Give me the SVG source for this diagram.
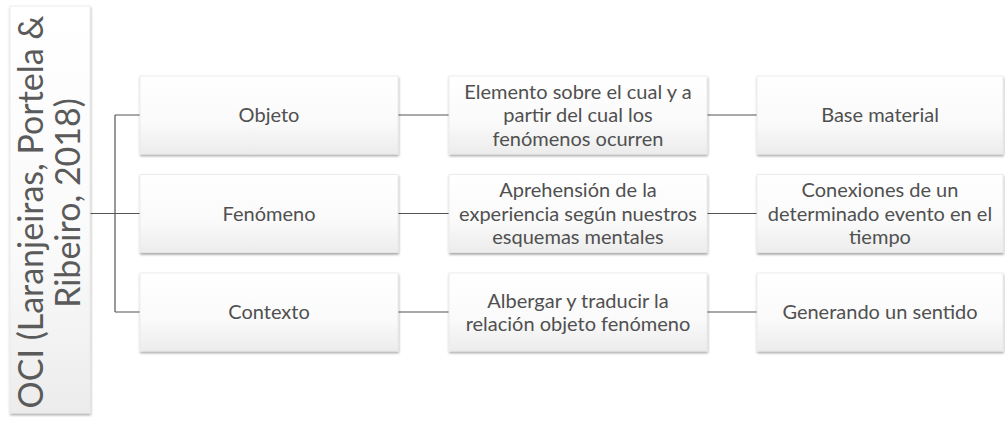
<svg xmlns="http://www.w3.org/2000/svg" width="1005" height="421" viewBox="0 0 1005 421">
<style>
.box{fill:url(#g);stroke:#e8e8e8;stroke-width:0.8;filter:url(#sh)}
.t{font-family:Lato,"Open Sans","Liberation Sans",sans-serif;font-size:20px;fill:#505050;text-anchor:middle}
.rt{font-family:Lato,"Open Sans","Liberation Sans",sans-serif;font-size:34px;fill:#5a5a5a;text-anchor:middle}
.c{fill:none;stroke:#555;stroke-width:1.2}
</style>
<defs>
<linearGradient id="g" x1="0" y1="0" x2="0" y2="1">
<stop offset="0" stop-color="#ffffff"/>
<stop offset="0.6" stop-color="#fafafa"/>
<stop offset="1" stop-color="#ececec"/>
</linearGradient>
<filter id="sh" x="-10%" y="-10%" width="120%" height="130%">
<feDropShadow dx="0.5" dy="1.8" stdDeviation="1.2" flood-color="#000" flood-opacity="0.35"/>
</filter>
</defs>
<rect width="1005" height="421" fill="#fff"/>
<g id="connectors">
<path class="c" d="M90,213.5H115M115,115V312M115,115H140M115,213.5H140M115,312H140"/>
<path class="c" d="M398,115H449M398,213.5H449M398,312H449"/>
<path class="c" d="M707,115H757M707,213.5H757M707,312H757"/>
</g>
<g id="root">
<rect class="box" x="10" y="6" width="80" height="407"/>
<text class="rt" transform="translate(43,212) rotate(-90)">OCI (Laranjeiras, Portela &amp;</text>
<text class="rt" transform="translate(80,203) rotate(-90)">Ribeiro, 2018)</text>
</g>
<g id="objeto">
<rect class="box" x="140" y="76" width="258" height="78"/>
<text class="t" x="269" y="122">Objeto</text>
</g>
<g id="fenomeno">
<rect class="box" x="140" y="174.5" width="258" height="78"/>
<text class="t" x="269" y="220.5">Fenómeno</text>
</g>
<g id="contexto">
<rect class="box" x="140" y="273" width="258" height="78"/>
<text class="t" x="269" y="319">Contexto</text>
</g>
<g id="elemento">
<rect class="box" x="449" y="76" width="258" height="78"/>
<text class="t" x="578" y="98.5">Elemento sobre el cual y a</text>
<text class="t" x="578" y="122">partir del cual los</text>
<text class="t" x="578" y="145.5">fenómenos ocurren</text>
</g>
<g id="aprehension">
<rect class="box" x="449" y="174.5" width="258" height="78"/>
<text class="t" x="578" y="197">Aprehensión de la</text>
<text class="t" x="578" y="220.5">experiencia según nuestros</text>
<text class="t" x="578" y="244">esquemas mentales</text>
</g>
<g id="albergar">
<rect class="box" x="449" y="273" width="258" height="78"/>
<text class="t" x="578" y="307.5">Albergar y traducir la</text>
<text class="t" x="578" y="331">relación objeto fenómeno</text>
</g>
<g id="base">
<rect class="box" x="757" y="76" width="246" height="78"/>
<text class="t" x="880" y="122">Base material</text>
</g>
<g id="conexiones">
<rect class="box" x="757" y="174.5" width="246" height="78"/>
<text class="t" x="880" y="197">Conexiones de un</text>
<text class="t" x="880" y="220.5">determinado evento en el</text>
<text class="t" x="880" y="244">tiempo</text>
</g>
<g id="generando">
<rect class="box" x="757" y="273" width="246" height="78"/>
<text class="t" x="880" y="319">Generando un sentido</text>
</g>
</svg>
